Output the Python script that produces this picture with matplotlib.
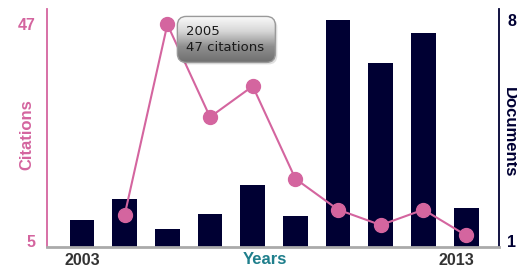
import numpy as np
import matplotlib
matplotlib.use("Agg")
import matplotlib.pyplot as plt
from matplotlib.patches import FancyBboxPatch
from matplotlib.colors import LinearSegmentedColormap
import matplotlib.transforms as mtransforms

# ---- data ----
years = ["2003", "2004", "2005", "2006", "2007", "2008", "2009", "2010", "2011", "2013"]
documents = [1.67, 2.33, 1.38, 1.86, 2.77, 1.79, 8.0, 6.64, 7.59, 2.05]
citations = [np.nan, 10, 47, 29, 35, 17, 11, 8, 11, 6]
xtick_labels = ["2003", "2013"]
cit_ticks = [5, 47]
doc_ticks = [1, 8]
tooltip_year = "2005"
tooltip_value = 47

PINK = "#d4659f"
NAVY = "#000033"
TEAL = "#1f7f8c"
GREY = "#333333"
FONT = "Liberation Sans"

fig = plt.figure(figsize=(5.17, 2.67), dpi=100)
W, H = 517, 267
ax = fig.add_axes([47 / W, 20 / H, 452 / W, 238 / H])
ax2 = ax.twinx()

x = np.arange(len(years))

# bars (documents) on ax, axis shown on the right
ax.bar(x, documents, width=0.58, color=NAVY, zorder=2)
ax.set_xlim(-0.82, 9.77)
ax.set_ylim(0.81, 8.35)
ax.yaxis.tick_right()
ax.yaxis.set_label_position("right")
ax.set_yticks(doc_ticks)
ax.set_yticklabels([str(t) for t in doc_ticks], color=NAVY, fontweight="bold",
                   fontsize=11.5, family=FONT)
ax.tick_params(axis="y", length=0, pad=6)

# line (citations) on ax2, axis shown on the left
ax2.plot(x, citations, color=PINK, lw=1.5, marker="o", markersize=10,
         markeredgecolor=PINK, zorder=3)
ax2.set_ylim(3.74, 50.0)
ax2.yaxis.tick_left()
ax2.yaxis.set_label_position("left")
ax2.set_yticks(cit_ticks)
ax2.set_yticklabels([str(t) for t in cit_ticks], color=PINK, fontweight="bold",
                    fontsize=11.5, family=FONT)
ax2.tick_params(axis="y", length=0, pad=8)

# x ticks
ax.set_xticks([0, len(years) - 1])
ax.set_xticklabels(xtick_labels, color=GREY, fontweight="bold", fontsize=11.5, family=FONT)
ax.tick_params(axis="x", length=0, pad=4)
lbls = ax.get_xticklabels()
lbls[-1].set_transform(lbls[-1].get_transform() +
                       mtransforms.ScaledTranslation(-10 / 100, 0, fig.dpi_scale_trans))

# spines
for a in (ax, ax2):
    for s in ("top", "left", "right", "bottom"):
        a.spines[s].set_visible(False)
ax2.spines["left"].set_visible(True)
ax2.spines["left"].set_color(PINK)
ax2.spines["left"].set_linewidth(1.3)
ax2.spines["right"].set_visible(True)
ax2.spines["right"].set_color(NAVY)
ax2.spines["right"].set_linewidth(1.3)
ax2.spines["bottom"].set_visible(True)
ax2.spines["bottom"].set_color("#aaaaaa")
ax2.spines["bottom"].set_linewidth(2)

# axis labels
fig.text(27 / W, 1 - 135 / H, "Citations", rotation=90, ha="center", va="center",
         color=PINK, fontweight="bold", fontsize=12, family=FONT)
fig.text(509 / W, 1 - 132 / H, "Documents", rotation=270, ha="center", va="center",
         color=NAVY, fontweight="bold", fontsize=12, family=FONT)
fig.text(265 / W, 1 - 260 / H, "Years", ha="center", va="center",
         color=TEAL, fontweight="bold", fontsize=12, family=FONT)

# tooltip
over = fig.add_axes([0, 0, 1, 1], zorder=10)
over.set_xlim(0, W)
over.set_ylim(0, H)
over.axis("off")
idx = years.index(tooltip_year)
px, py = ax2.transData.transform((idx, tooltip_value))
bx0, by1 = px + 10, py + 8
bw, bh = 98, 46
by0 = by1 - bh
shadow = FancyBboxPatch((bx0 + 2, by0 - 2), bw, bh, boxstyle="round,pad=0,rounding_size=9",
                        facecolor="#000000", alpha=0.12, edgecolor="none")
over.add_patch(shadow)
grad = np.linspace(0, 1, 100).reshape(-1, 1)
cmap = LinearSegmentedColormap.from_list("g", ["#fbfbfb", "#d6d6d6", "#8e8e8e", "#707070"])
im = over.imshow(grad, extent=(bx0, bx0 + bw, by0, by1), cmap=cmap, aspect="auto",
                 origin="upper", zorder=11)
clip = FancyBboxPatch((bx0, by0), bw, bh, boxstyle="round,pad=0,rounding_size=9",
                      transform=over.transData, facecolor="none", edgecolor="none")
over.add_patch(clip)
im.set_clip_path(clip)
box = FancyBboxPatch((bx0, by0), bw, bh, boxstyle="round,pad=0,rounding_size=9",
                     facecolor="none", edgecolor="#9a9a9a", lw=1.0, zorder=12)
over.add_patch(box)
over.text(bx0 + 9, by1 - bh / 2, f"{tooltip_year}\n{tooltip_value} citations", ha="left",
          va="center", fontsize=9.5, color="#1a1a1a", family="DejaVu Sans",
          linespacing=1.25, zorder=13)
over.set_xlim(0, W)
over.set_ylim(0, H)

fig.savefig("out.png", dpi=100)
